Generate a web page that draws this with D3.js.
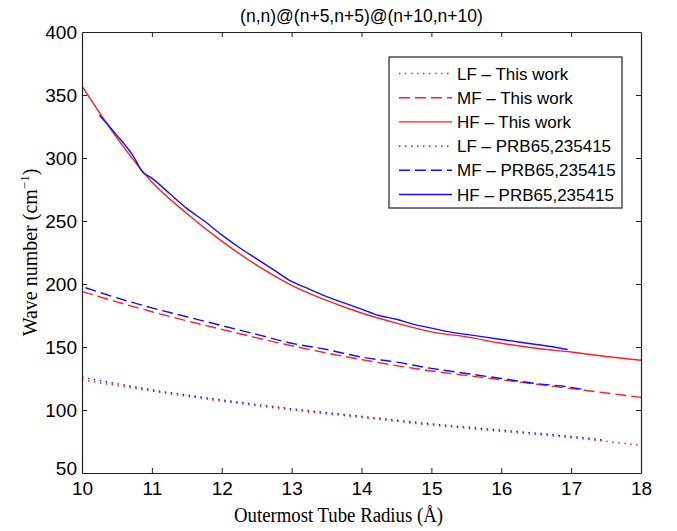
<!DOCTYPE html>
<html><head><meta charset="utf-8">
<script src="https://cdn.jsdelivr.net/npm/d3@7"></script>
<style>body{margin:0;background:#fff}</style>
</head><body>
<svg id="c" width="677" height="531"></svg>
<script>
const title = "(n,n)@(n+5,n+5)@(n+10,n+10)";
const xTicks = [10,11,12,13,14,15,16,17,18];
const yTicks = [50,100,150,200,250,300,350,400];

// This work (red)
const lfWorkX = [10,11,12,13,14,15,16,17,18];
const lfWorkY = [124,115,107,100,94,88,83,78,72];
const mfWorkX = [10,11,12,13,14,15,16,17,18];
const mfWorkY = [194,178,164,151,140,131,124,117,110];
const hfWorkX = [10,10.5,11,11.5,12,12.5,13,13.5,14,14.5,15,15.5,16,16.5,17,17.5,18];
const hfWorkY = [357,316,281,256,234,215,199,187,177,169,162,158,153,149,146,142.5,139.5];

// PRB65,235415 (blue)
const lfPrbX = [10,11,12,13,14,15,16,17,17.5];
const lfPrbY = [126,116,108,101,95,89,84,79,76];
const mfPrbX = [10.05,10.5,11,11.5,12,12.5,13,13.5,14,14.5,15,15.5,16,16.5,17,17.2];
const mfPrbY = [197,189,181,174,167,160,153,148,142,138,133,129,125,121,118,116];
const hfPrbX = [10.25,10.5,10.75,10.85,11,11.25,11.5,11.75,12,12.25,12.5,12.75,13,13.25,13.5,13.75,14,14.25,14.5,14.75,15,15.25,15.5,15.75,16,16.25,16.5,16.75,16.95];
const hfPrbY = [334,318,300,290,284,272,260,250,239,229,220,211,202,196,190,185,180,175,172,168,165,162,160,158,156,154,152,150,148];

const labels = ["LF \u2013 This work","MF \u2013 This work","HF \u2013 This work","LF \u2013 PRB65,235415","MF \u2013 PRB65,235415","HF \u2013 PRB65,235415"];
const colors = ["#ff2020","#ff2020","#ff2020","#1010ff","#1010ff","#1010ff"];
const dashes = ["1.5,4.5","11,5",null,"1.5,4.5","11,5",null];

const series = [
  [lfWorkX,lfWorkY],[mfWorkX,mfWorkY],[hfWorkX,hfWorkY],
  [lfPrbX,lfPrbY],[mfPrbX,mfPrbY],[hfPrbX,hfPrbY]
];

const L=82, R=641, T=32, B=473;
const svg = d3.select("#c");
const x = d3.scaleLinear().domain([10,18]).range([L,R]);
const y = d3.scaleLinear().domain([50,400]).range([B,T]);

const line = d3.line().x(d=>x(d[0])).y(d=>y(d[1])).curve(d3.curveMonotoneX);

const plot = svg.append("g");
plot.append("defs").append("clipPath").attr("id","clip")
  .append("rect").attr("x",L).attr("y",T).attr("width",R-L).attr("height",B-T);

series.forEach((s,i)=>{
  const pts = s[0].map((v,j)=>[v,s[1][j]]);
  plot.append("path").attr("d",line(pts)).attr("fill","none")
    .attr("stroke",colors[i]).attr("stroke-width",1.4)
    .attr("stroke-dasharray",dashes[i]).attr("clip-path","url(#clip)");
});

// axes (box with inward ticks)
const tickLen = 5;
const axFont = "'Liberation Sans', Arial, sans-serif";
svg.append("g").attr("transform",`translate(0,${B})`)
  .call(d3.axisBottom(x).tickValues(xTicks).tickSizeInner(-tickLen).tickSizeOuter(0).tickPadding(9).tickFormat(d3.format("d")))
  .call(g=>g.selectAll("text").attr("font-size",19).attr("font-family",axFont).attr("fill","#000"));
svg.append("g").attr("transform",`translate(0,${T})`)
  .call(d3.axisTop(x).tickValues(xTicks).tickSizeInner(-tickLen).tickSizeOuter(0).tickFormat(""));
svg.append("g").attr("transform",`translate(${L},0)`)
  .call(d3.axisLeft(y).tickValues(yTicks).tickSizeInner(-tickLen).tickSizeOuter(0).tickPadding(5).tickFormat(d3.format("d")))
  .call(g=>g.selectAll("text").attr("font-size",19).attr("font-family",axFont).attr("fill","#000"));
svg.append("g").attr("transform",`translate(${R},0)`)
  .call(d3.axisRight(y).tickValues(yTicks).tickSizeInner(-tickLen).tickSizeOuter(0).tickFormat(""));
svg.selectAll(".domain").attr("stroke","#222").attr("stroke-width",1.2);
svg.selectAll(".tick line").attr("stroke","#222");
svg.selectAll(".tick").filter(d=>d===10||d===18||d===50||d===400).select("line").attr("stroke","none");
svg.selectAll(".tick").filter(d=>d===50).select("text").attr("dy","0.1em");

// title
svg.append("text").attr("x",(L+R)/2).attr("y",22).attr("text-anchor","middle")
  .attr("font-family",axFont).attr("font-size",17.5).text(title);

// axis labels
const serif = "'Liberation Serif','DejaVu Serif',serif";
svg.append("text").attr("x",234).attr("y",522).attr("text-anchor","start")
  .attr("font-family",serif).attr("font-size",20).attr("textLength",209).attr("lengthAdjust","spacingAndGlyphs")
  .text("Outermost Tube Radius (\u00C5)");
const yl = svg.append("text").attr("transform",`translate(37,${(T+B)/2}) rotate(-90)`)
  .attr("text-anchor","middle").attr("font-family",serif).attr("font-size",20);
yl.append("tspan").text("Wave number (cm");
yl.append("tspan").attr("dy",-8).attr("font-size",13).text("\u22121");
yl.append("tspan").attr("dy",8).text(")");

// legend
const lg = svg.append("g");
lg.append("rect").attr("x",389).attr("y",57).attr("width",233).attr("height",151)
  .attr("fill","#fff").attr("stroke","#222").attr("stroke-width",1.2);
labels.forEach((lab,i)=>{
  const cy = 73.5 + i*24.2;
  lg.append("line").attr("x1",399).attr("x2",452).attr("y1",cy).attr("y2",cy)
    .attr("stroke",colors[i]).attr("stroke-width",1.4).attr("stroke-dasharray",dashes[i]);
  lg.append("text").attr("x",457).attr("y",cy+6).attr("font-family",axFont).attr("font-size",17).text(lab);
});
</script>
</body></html>
